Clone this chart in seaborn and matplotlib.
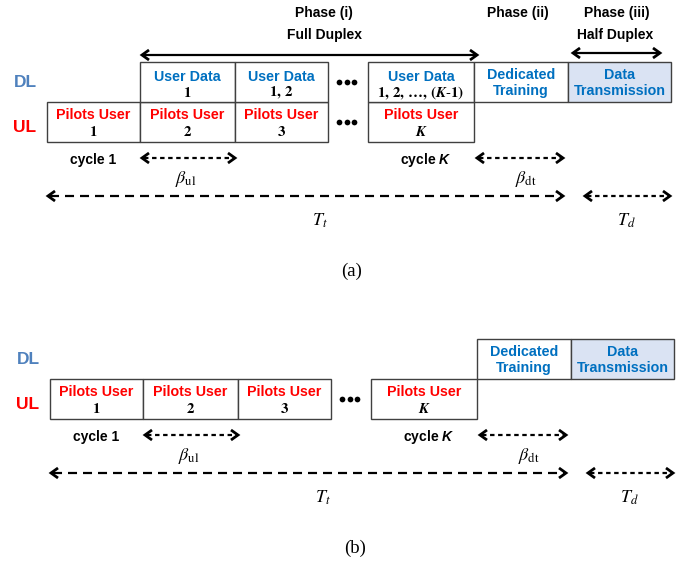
import matplotlib
matplotlib.use("Agg")
import matplotlib.pyplot as plt
import seaborn as sns

# ---- diagram content ----
ul_titles = ["Pilots User", "Pilots User", "Pilots User", "Pilots User"]
ul_users = [r"$\mathbf{1}$", r"$\mathbf{2}$", r"$\mathbf{3}$", r"$\mathbfit{K}$"]
dl_titles = ["User Data", "User Data", "User Data"]
dl_users = [r"$\mathbf{1}$", r"$\mathbf{1,\,2}$",
            r"$\mathbf{1,\,2,\,\ldots,\,(}\mathbfit{K}\mathbf{\text{-}1)}$"]
tail_titles = ["Dedicated\nTraining", "Data\nTransmission"]
phase_titles = ["Phase (i)", "Phase (ii)", "Phase (iii)"]
phase_modes = ["Full Duplex", "Half Duplex"]
cycle_labels = ["cycle 1", r"cycle $\mathsf{K}$"]
span_labels = [r"$\beta_{\mathrm{ul}}$", r"$\beta_{\mathrm{dt}}$", r"$T_t$", r"$T_d$"]
panel_captions = ["(a)", "(b)"]

# ---- layout (pixels, panel (a) frame) ----
ul_left = [47, 140, 235, 368]
ul_right = [140, 235, 328, 474]
dl_left = [140, 235, 368]
dl_right = [235, 328, 474]
tail_left = [474, 568]
tail_right = [568, 671]
DL_TOP, UL_TOP, ROW_H = 62, 102, 40
panel_shift = [(0, 0), (3, 277)]

RED = "#FF0000"
BLUE = "#0070C0"
DL_BLUE = "#4F81BD"
FILL = "#DAE3F3"
EDGE = "#404040"

sns.set_theme(style="white")
plt.rcParams["font.family"] = ["Liberation Sans", "DejaVu Sans"]
plt.rcParams["text.color"] = "black"
plt.rcParams["mathtext.fontset"] = "custom"
plt.rcParams["mathtext.rm"] = "STIXGeneral"
plt.rcParams["mathtext.it"] = "STIXGeneral:italic"
plt.rcParams["mathtext.bf"] = "STIXGeneral:bold"
plt.rcParams["mathtext.bfit"] = "STIXGeneral:italic:bold"
plt.rcParams["mathtext.sf"] = "Liberation Sans:italic:bold"
plt.rcParams["lines.scale_dashes"] = False

fig = plt.figure(figsize=(6.91, 5.61), dpi=100)
ax = fig.add_axes([0, 0, 1, 1])
ax.set_xlim(0, 691)
ax.set_ylim(561, 0)
ax.axis("off")


def chevron(x, y, direction, w=7, h=5):
    ax.plot([x - direction * w, x, x - direction * w], [y - h, y, y + h],
            color="black", lw=2.0, solid_joinstyle="miter", solid_capstyle="butt")


def double_arrow(x0, x1, y, dashes=None):
    ls = "-" if dashes is None else (0, dashes)
    ax.plot([x0 + 2, x1 - 2], [y, y], color="black", lw=1.6, linestyle=ls,
            solid_capstyle="butt", dash_capstyle="butt")
    chevron(x0, y, -1)
    chevron(x1, y, 1)


def boxes(lefts, rights, top, dx, dy, fill="white"):
    widths = [r - l for l, r in zip(lefts, rights)]
    ax.bar([l + dx for l in lefts], ROW_H, width=widths, bottom=top + dy,
           align="edge", color=fill, edgecolor=EDGE, linewidth=1.0)


def ellipsis_dots(x, y):
    ax.scatter([x - 7.5, x, x + 7.5], [y, y, y], s=17, color="black", linewidths=0)


bold = dict(fontweight="bold", ha="center", va="center")

for p, (dx, dy) in enumerate(panel_shift):
    # row labels
    ax.text(25 + dx, 82 + dy, "DL", color=DL_BLUE, fontsize=12.5, **bold)
    ax.text(25 + dx, 127 + dy, "UL", color=RED, fontsize=12.5, **bold)

    # uplink pilot slots
    boxes(ul_left, ul_right, UL_TOP, dx, dy)
    for l, r, t, u in zip(ul_left, ul_right, ul_titles, ul_users):
        cx = (l + r) / 2 + dx
        ax.text(cx, 115 + dy, t, color=RED, fontsize=10.3, **bold)
        ax.text(cx, 132 + dy, u, fontsize=10.8, ha="center", va="center")
    ellipsis_dots(347 + dx, 122 + dy)

    # downlink user data (full duplex only in panel a)
    if p == 0:
        boxes(dl_left, dl_right, DL_TOP, dx, dy)
        for l, r, t, u in zip(dl_left, dl_right, dl_titles, dl_users):
            cx = (l + r) / 2 + dx
            ax.text(cx, 77 + dy, t, color=BLUE, fontsize=10.3, **bold)
            ax.text(cx, 93 + dy, u, fontsize=10.8, ha="center", va="center")
        ellipsis_dots(347 + dx, 82 + dy)

    # dedicated training + data transmission
    boxes(tail_left[:1], tail_right[:1], DL_TOP, dx, dy)
    boxes(tail_left[1:], tail_right[1:], DL_TOP, dx, dy, fill=FILL)
    for l, r, t in zip(tail_left, tail_right, tail_titles):
        ax.text((l + r) / 2 + dx, 83 + dy, t, color=BLUE, fontsize=10.3,
                linespacing=1.12, **bold)

    # cycles and durations
    ax.text(93 + dx, 160 + dy, cycle_labels[0], fontsize=10, **bold)
    ax.text(426 + dx, 160 + dy, cycle_labels[1], fontsize=10, **bold)
    double_arrow(142 + dx, 235 + dx, 158 + dy, dashes=(3.2, 2.6))
    double_arrow(477 + dx, 563 + dx, 158 + dy, dashes=(3.2, 2.6))
    double_arrow(48 + dx, 563 + dx, 196 + dy, dashes=(6.5, 4.3))
    double_arrow(585 + dx, 670 + dx, 196 + dy, dashes=(3.2, 2.6))
    ax.text(186 + dx, 179 + dy, span_labels[0], fontsize=13, ha="center", va="center")
    ax.text(526 + dx, 179 + dy, span_labels[1], fontsize=13, ha="center", va="center")
    ax.text(320 + dx, 221 + dy, span_labels[2], fontsize=13, ha="center", va="center")
    ax.text(626 + dx, 221 + dy, span_labels[3], fontsize=13, ha="center", va="center")

    ax.text(352 + dx, 271 + dy, panel_captions[p], fontsize=13.5,
            family="Liberation Serif", ha="center", va="center")

# phase headers (panel a)
ax.text(324, 13, phase_titles[0], fontsize=10, **bold)
ax.text(518, 13, phase_titles[1], fontsize=10, **bold)
ax.text(617, 13, phase_titles[2], fontsize=10, **bold)
ax.text(325, 35, phase_modes[0], fontsize=10, **bold)
ax.text(615, 35, phase_modes[1], fontsize=10, **bold)
double_arrow(142, 477, 55)
double_arrow(573, 660, 53)

fig.savefig("out.png", dpi=100)
